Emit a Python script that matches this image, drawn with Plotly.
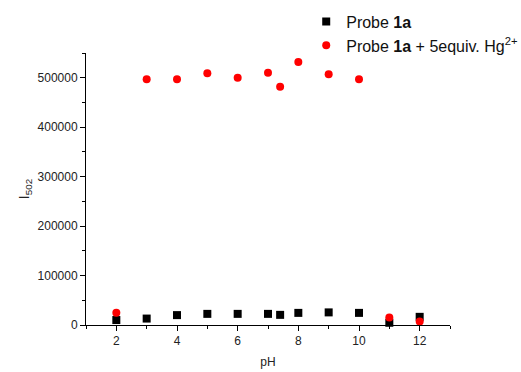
import plotly.graph_objects as go

# pH values measured
ph = [2, 3, 4, 5, 6, 7, 7.4, 8, 9, 10, 11, 12]

# Emission intensity at 502 nm
probe = [10000, 13000, 20000, 22500, 22500, 22500, 20500, 24500, 25500, 24500, 4500, 16500]
probe_hg = [25000, 497000, 497000, 509000, 500000, 510000, 482000, 532000, 507000, 497000, 15000, 7000]

x_ticks = [2, 4, 6, 8, 10, 12]
y_ticks = [0, 100000, 200000, 300000, 400000, 500000]

fig = go.Figure()
fig.add_trace(go.Scatter(
    x=ph, y=probe, mode="markers", name="Probe <b>1a</b>",
    marker=dict(symbol="square", size=8, color="black"), cliponaxis=False,
))
fig.add_trace(go.Scatter(
    x=ph, y=probe_hg, mode="markers", name="Probe <b>1a</b> + 5equiv. Hg<sup>2+</sup>",
    marker=dict(symbol="circle", size=8, color="#ff0000"), cliponaxis=False,
))

axis_font = dict(family="Liberation Sans, Arial, sans-serif", size=12, color="#222")

fig.update_layout(
    width=521, height=372,
    margin=dict(l=86, r=71, t=53, b=47, autoexpand=False),
    paper_bgcolor="white", plot_bgcolor="white",
    font=axis_font,
    showlegend=True,
    legend=dict(
        x=0.605, y=1.178, xanchor="left", yanchor="top",
        font=dict(family="Liberation Sans, Arial, sans-serif", size=16, color="#111"),
        bgcolor="rgba(0,0,0,0)", itemwidth=30, tracegroupgap=0,
    ),
    xaxis=dict(
        range=[1, 13], tickvals=x_ticks, showgrid=False, zeroline=False,
        showline=True, linecolor="black", linewidth=1,
        ticks="outside", ticklen=5, tickcolor="black",
        minor=dict(dtick=1, tick0=1, ticks="outside", ticklen=3, tickcolor="black"),
        title=dict(text="pH", font=axis_font, standoff=10),
        tickfont=axis_font,
    ),
    yaxis=dict(
        range=[0, 550000], tickvals=y_ticks, showgrid=False, zeroline=False,
        showline=True, linecolor="black", linewidth=1,
        ticks="outside", ticklen=5, tickcolor="black",
        minor=dict(dtick=50000, tick0=0, ticks="outside", ticklen=3, tickcolor="black"),
        title=dict(text="I<sub>502</sub>", font=dict(family="Liberation Sans, Arial, sans-serif", size=14, color="#222"), standoff=4),
        tickfont=axis_font, tickformat="d",
    ),
)

fig.write_html("out.html")
